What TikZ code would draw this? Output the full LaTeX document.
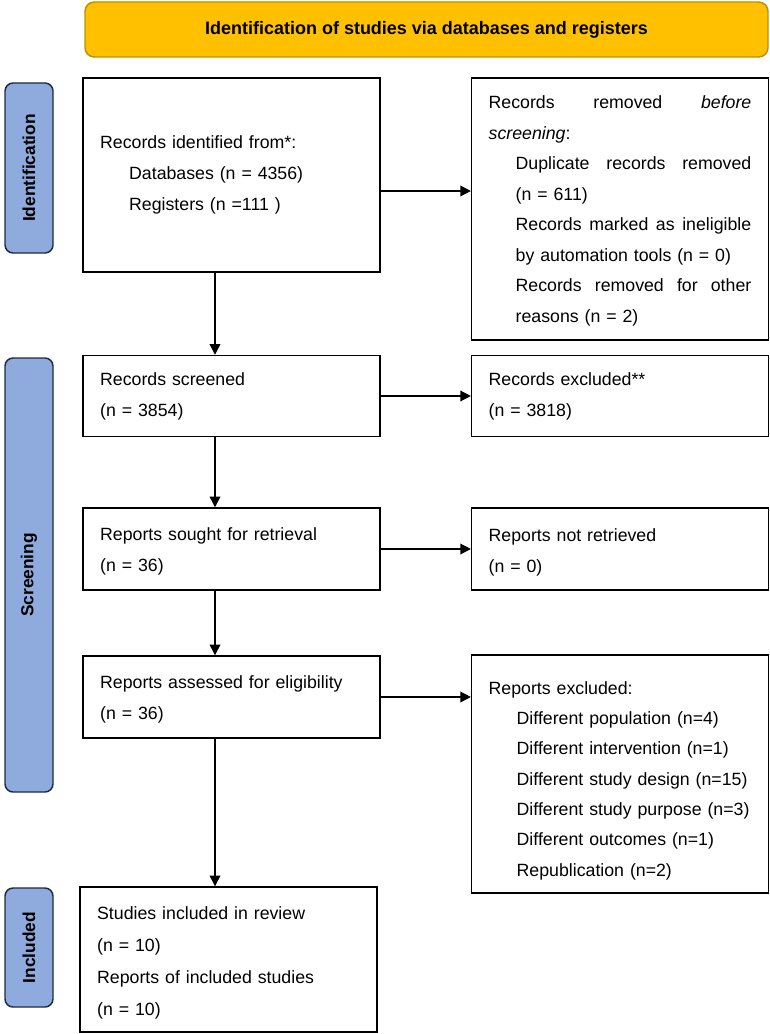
\documentclass[tikz,border=0pt]{standalone}
\usepackage{fontspec}
\setmainfont{Liberation Sans}
\usepackage{graphicx}
\usetikzlibrary{arrows.meta}
\definecolor{bannerfill}{HTML}{FFC000}
\definecolor{bannerdraw}{HTML}{BF9000}
\definecolor{labelfill}{HTML}{8FAADC}
\definecolor{labeldraw}{HTML}{1F2A40}
\begin{document}
\begin{tikzpicture}[x=0.75pt,y=-0.75pt,
  flowbox/.style={draw, line width=1.1pt, inner xsep=12.75pt, inner ysep=0pt,
    text width=197pt, align=left},
  lsp/.style={font=\fontsize{13.3pt}{#1}\selectfont},
  stagelabel/.style={draw=labeldraw, fill=labelfill, line width=1.1pt, rounded corners=6pt,
    rotate=90, inner sep=0pt, minimum height=36pt, font=\fontsize{13pt}{15pt}\selectfont\bfseries},
  banner/.style={draw=bannerdraw, fill=bannerfill, line width=1.1pt, rounded corners=7pt, inner sep=0pt},
  arr/.style={line width=1.1pt, -{Triangle[length=8pt,width=8pt]}}]
\useasboundingbox (0,0) rectangle (770,1034);
\fill[white] (0,0) rectangle (770,1034);

\node[banner, minimum width=512.25pt, minimum height=41.25pt] (ban) at (426.5,29.5)
  {\resizebox{332pt}{9.8pt}{\bfseries Identification of studies via databases and registers}};

\node[stagelabel, minimum width=127.5pt] (lid) at (29,168) {Identification};
\node[stagelabel, minimum width=325.5pt] (lsc) at (29,575) {Screening};
\node[stagelabel, minimum width=89.25pt] (lin) at (29,947.5) {Included};

\node[flowbox, lsp=23.25pt, minimum height=145.5pt] (b1) at (231.5,175)
  {Records identified from*:\\
   \hspace*{21.75pt}Databases (n = 4356)\\
   \hspace*{21.75pt}Registers (n =111 )};

\node[flowbox, lsp=22.9pt, minimum height=196.5pt] (r1) at (620,209)
  {\rule{0pt}{12.7pt}Records\hfill removed\hfill \textit{before}\\
   \textit{screening}:\\
   \hspace*{20.25pt}Duplicate\hfill records\hfill removed\\
   \hspace*{20.25pt}(n = 611)\\
   \hspace*{20.25pt}Records\hfill marked\hfill as\hfill ineligible\\
   \hspace*{20.25pt}by automation tools (n = 0)\\
   \hspace*{20.25pt}Records\hfill removed\hfill for\hfill other\\
   \hspace*{20.25pt}reasons (n = 2)};

\node[flowbox, lsp=23.25pt, minimum height=60.75pt] (b2) at (231.5,396)
  {Records screened\\(n = 3854)};
\node[flowbox, lsp=23.25pt, minimum height=60.75pt] (r2) at (620,396)
  {Records excluded**\\(n = 3818)};

\node[flowbox, lsp=23.25pt, minimum height=61.5pt] (b3) at (231.5,549)
  {\rule{0pt}{13.5pt}Reports sought for retrieval\\(n = 36)};
\node[flowbox, lsp=23.25pt, minimum height=61.5pt] (r3) at (620,549)
  {\rule{0pt}{14.5pt}Reports not retrieved\\(n = 0)};

\node[flowbox, lsp=23.5pt, minimum height=61.5pt] (b4) at (231.5,697)
  {\rule{0pt}{13.5pt}Reports assessed for eligibility\\(n = 36)};
\node[flowbox, lsp=22.75pt, minimum height=178.5pt] (r4) at (620,774)
  {\rule{0pt}{19.5pt}Reports excluded:\\
   \hspace*{21pt}Different population (n=4)\\
   \hspace*{21pt}Different intervention (n=1)\\
   \hspace*{21pt}Different study design (n=15)\\
   \hspace*{21pt}Different study purpose (n=3)\\
   \hspace*{21pt}Different outcomes (n=1)\\
   \hspace*{21pt}Republication (n=2)};

\node[flowbox, lsp=24pt, minimum height=108.75pt] (b5) at (228.5,959.5)
  {\rule{0pt}{14.5pt}Studies included in review\\(n = 10)\\Reports of included studies\\(n = 10)};

\coordinate (ax) at (215,0);
\coordinate (ay) at (0,191);
\draw[arr] (b1.south -| ax) -- (b2.north -| ax);
\draw[arr] (b2.south -| ax) -- (b3.north -| ax);
\draw[arr] (b3.south -| ax) -- (b4.north -| ax);
\draw[arr] (b4.south -| ax) -- (b5.north -| ax);
\draw[arr] (b1.east |- ay) -- (r1.west |- ay);
\draw[arr] (b2.east) -- (r2.west);
\draw[arr] (b3.east) -- (r3.west);
\draw[arr] (b4.east) -- (b4.east -| r4.west);
\end{tikzpicture}
\end{document}
